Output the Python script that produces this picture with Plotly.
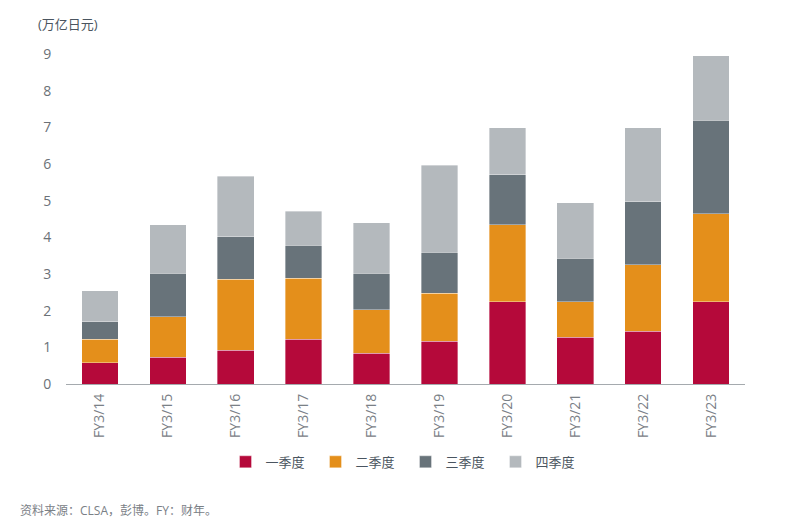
import plotly.graph_objects as go

categories = ["FY3/14", "FY3/15", "FY3/16", "FY3/17", "FY3/18", "FY3/19", "FY3/20", "FY3/21", "FY3/22", "FY3/23"]
q1 = [0.58, 0.73, 0.92, 1.22, 0.84, 1.17, 2.25, 1.28, 1.44, 2.25]
q2 = [0.64, 1.11, 1.94, 1.67, 1.19, 1.30, 2.09, 0.97, 1.81, 2.39]
q3 = [0.48, 1.18, 1.16, 0.90, 0.99, 1.13, 1.37, 1.18, 1.72, 2.55]
q4 = [0.84, 1.32, 1.64, 0.92, 1.38, 2.36, 1.28, 1.51, 2.02, 1.76]
series_names = ["一季度", "二季度", "三季度", "四季度"]
colors = ["#B5093A", "#E48F1B", "#68737A", "#B4B9BD"]
y_ticks = [0, 1, 2, 3, 4, 5, 6, 7, 8, 9]

FONT = "Open Sans, Noto Sans CJK SC, sans-serif"
fig = go.Figure()
for name, vals, c in zip(series_names, [q1, q2, q3, q4], colors):
    fig.add_trace(go.Bar(x=categories, y=vals, name=name, marker_color=c,
                         marker_line=dict(color="rgba(255,255,255,0.6)", width=0.6)))

fig.update_layout(
    barmode="stack",
    bargap=0.46,
    width=785, height=532,
    margin=dict(l=58, r=48, t=46, b=156),
    paper_bgcolor="white", plot_bgcolor="white",
    font=dict(family=FONT, color="#6B7177"),
    showlegend=True,
    legend=dict(orientation="h", x=0.5, xanchor="center", y=-0.236, yanchor="middle",
                entrywidth=45, entrywidthmode="pixels",
                font=dict(size=13, color="#4A5560", family=FONT), traceorder="normal"),
    xaxis=dict(showgrid=False, showline=True, linecolor="#A5AAAE", linewidth=1.2,
               tickangle=-90, tickfont=dict(size=14, color="#7A8086"),
               ticks="outside", ticklen=3, tickcolor="rgba(0,0,0,0)", range=[-0.5, 9.5]),
    yaxis=dict(showgrid=False, zeroline=False, showline=False, range=[0, 9],
               tickvals=y_ticks, tickfont=dict(size=14, color="#6B7177"),
               ticks="outside", ticklen=11, tickcolor="rgba(0,0,0,0)"),
    annotations=[
        dict(text="(万亿日元)", xref="paper", yref="paper", x=-0.044, y=1.09,
             xanchor="left", yanchor="middle", showarrow=False,
             font=dict(size=13, color="#4A5560", family=FONT)),
        dict(text="资料来源：CLSA，彭博。FY：财年。", xref="paper", yref="paper", x=-0.07, y=-0.382,
             xanchor="left", yanchor="middle", showarrow=False,
             font=dict(size=12, color="#7A8086", family=FONT)),
    ],
)
fig.write_html("out.html")
